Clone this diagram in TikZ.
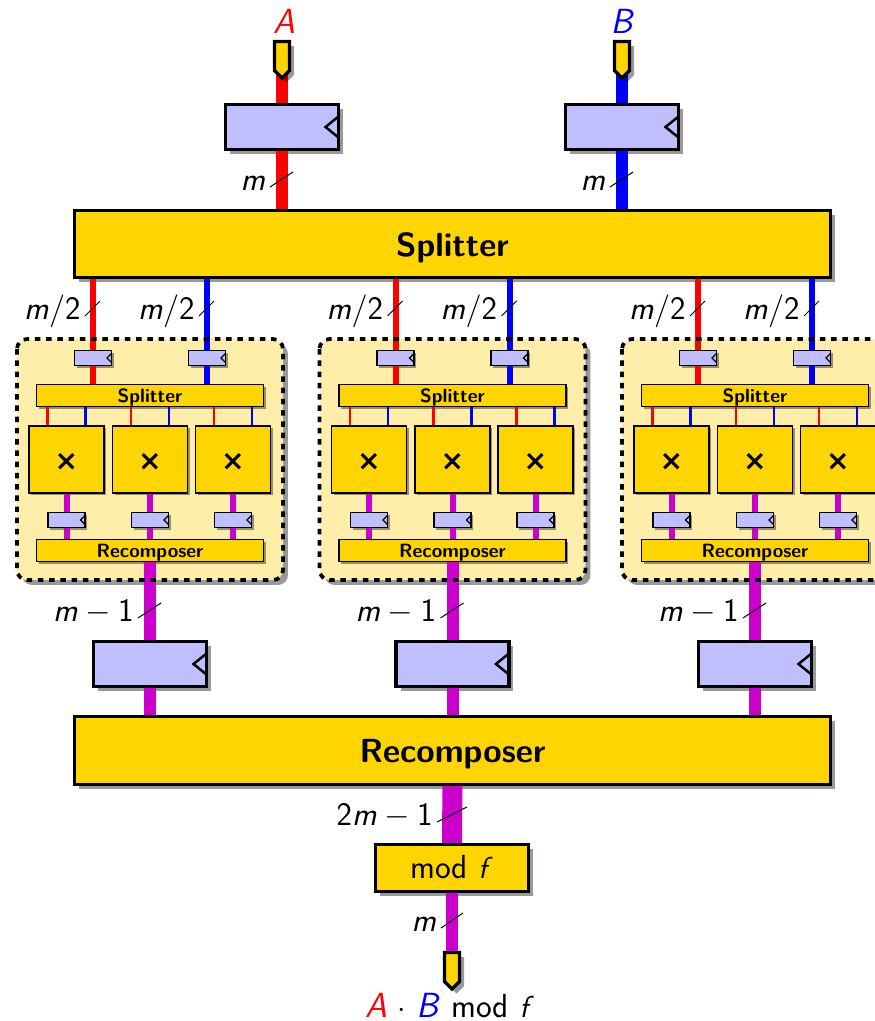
\documentclass[tikz,border=0pt]{standalone}
\usepackage[no-math]{fontspec}
\newfontfamily\timesglyph{DejaVu Sans}
\usetikzlibrary{shadows,shapes.symbols}
\DeclareMathAlphabet{\mathsfsl}{OT1}{cmss}{m}{sl}
\newcommand{\mv}[1]{\mathsfsl{#1}}
\definecolor{regblue}{HTML}{BFBFFF}
\definecolor{boxgold}{HTML}{FFD500}
\definecolor{groupfill}{HTML}{FFEEAA}
\definecolor{mulwire}{HTML}{CC00CC}
\tikzset{softshadow/.style = {drop shadow = {shadow xshift = #1, shadow yshift = -#1, fill = black, opacity = 0.4}}}
\tikzset{bigbox/.style = {draw = black, line width = 0.065cm, fill = boxgold, softshadow = 0.09cm, text height = 17.8pt, font = \sffamily\bfseries\fontsize{19}{23}\selectfont}}
\tikzset{smallbox/.style = {draw = black, line width = 0.024cm, fill = boxgold, softshadow = 0.045cm, inner sep = 0}}
\tikzset{smalltitle/.style = {smallbox, minimum width = 4.54cm, minimum height = 0.44cm, text height = 10.3pt, font = \sffamily\bfseries\fontsize{10.9}{13}\selectfont}}
\tikzset{bigreg/.style = {draw = black, line width = 0.065cm, fill = regblue, softshadow = 0.09cm, minimum width = 2.26cm, minimum height = 0.9cm,
  path picture = {\draw [line width = 0.05cm] ([yshift = 0.21cm] path picture bounding box.east) -- ([xshift = -0.26cm] path picture bounding box.east) -- ([yshift = -0.21cm] path picture bounding box.east);}}}
\tikzset{smallreg/.style = {draw = black, line width = 0.024cm, fill = regblue, softshadow = 0.045cm, minimum width = 0.74cm, minimum height = 0.3cm,
  path picture = {\draw [line width = 0.024cm] ([yshift = 0.09cm] path picture bounding box.east) -- ([xshift = -0.09cm] path picture bounding box.east) -- ([yshift = -0.09cm] path picture bounding box.east);}}}
\tikzset{pinbox/.style = {signal, signal to = south, draw = black, line width = 0.065cm, fill = boxgold, softshadow = 0.09cm, minimum width = 0.3cm, minimum height = 0.58cm, inner sep = 0}}
\tikzset{groupbox/.style = {fill = groupfill, softshadow = 0.1cm, rounded corners = 0.2cm, minimum width = 5.32cm, minimum height = 4.82cm, outer sep = 0}}
\tikzset{groupline/.style = {line width = 0.075cm, dash pattern = on 0.11cm off 0.115cm, rounded corners = 0.2cm}}
\tikzset{widewire/.style = {line width = 0.24cm, draw = #1}}
\tikzset{midwire/.style = {line width = 0.12cm, draw = #1}}
\tikzset{thinwire/.style = {line width = 0.05cm, draw = #1}}
\tikzset{plaintext/.style = {inner sep = 0, font = \sffamily\fontsize{19}{23}\selectfont}}
\tikzset{busname/.style = {plaintext, anchor = base east}}
\newcommand{\busmark}[6]{
  \coordinate (#1 s) at ({#2} , {#3});
  \coordinate (#1 e) at ({#4} , {#5});
  \draw [line width = 0.02cm] (#1 s) -- (#1 e);
  \node [busname] (#1 l) at ({#2 - 4} , {#3 + 3}) {\scalebox{1.08}{$ #6 $}};
}
\begin{document}
\begin{tikzpicture}[x = 0.02cm, y = -0.02cm]
  \useasboundingbox (0 , 0) rectangle (875 , 1021);

  % inputs and top level blocks
  \coordinate (pinAin) at (282 , 60);
  \coordinate (pinBin) at (622 , 60);
  \node [bigreg] (regA) at (282 , 127) {};
  \node [bigreg] (regB) at (622 , 127) {};
  \node [bigbox, minimum width = 15.12cm, minimum height = 1.34cm] (split) at (452.5 , 244) {Splitter};
  \node [bigbox, minimum width = 15.12cm, minimum height = 1.36cm] (recomp) at (452.5 , 750.5) {Recomposer};
  \node [bigbox, minimum width = 3.06cm, minimum height = 0.94cm, text height = 11.4pt, text depth = 0pt, font = \sffamily\fontsize{19}{23}\selectfont] (modf) at (452 , 868) {mod $ \mv{f} $};

  \draw [widewire = red] (pinAin) -- (regA);
  \draw [widewire = blue] (pinBin) -- (regB);
  \draw [widewire = red] (regA) -- (regA |- split.north);
  \draw [widewire = blue] (regB) -- (regB |- split.north);

  \node [pinbox] (pinA) at (282 , 56) {};
  \node [pinbox] (pinB) at (622 , 56) {};
  \node [plaintext, anchor = base] (nameA) at (284 , 33) {\scalebox{1.15}{\textcolor{red}{$ \mv{A} $}}};
  \node [plaintext, anchor = base] (nameB) at (623 , 33) {\scalebox{1.15}{\textcolor{blue}{$ \mv{B} $}}};

  \busmark{markA}{270}{187}{293}{172}{\mv{m}}
  \busmark{markB}{610}{187}{633}{172}{\mv{m}}

  % the three multiplier groups
  \foreach \grp/\off in {a/0,b/302.5,c/605} {
    \node [groupbox] (\grp box) at ({150 + \off} , 459.5) {};
    \node [smallreg] (\grp regA) at ({93 + \off} , 358) {};
    \node [smallreg] (\grp regB) at ({207 + \off} , 358) {};
    \node [smalltitle] (\grp split) at ({150 + \off} , 395.5) {Splitter};
    \node [smalltitle] (\grp recomp) at ({150 + \off} , 550.5) {Recomposer};
    \node [bigreg] (\grp out) at ({150 + \off} , 664) {};
    \draw [midwire = red] (\grp regA |- split.south) -- (\grp regA);
    \draw [midwire = blue] (\grp regB |- split.south) -- (\grp regB);
    \draw [midwire = red] (\grp regA) -- (\grp regA |- \grp split.north);
    \draw [midwire = blue] (\grp regB) -- (\grp regB |- \grp split.north);
    \foreach \idx/\cx in {1/66.5,2/150,3/233} {
      \node [smallbox, minimum width = 1.5cm, minimum height = 1.34cm, text height = 12.3pt, font = \timesglyph\bfseries\fontsize{16}{20}\selectfont] (\grp mul\idx) at ({\cx + \off} , 459.5) {×};
      \node [smallreg] (\grp reg\idx) at ({\cx + \off} , 520) {};
      \coordinate (\grp redtop\idx) at ({\cx + \off - 19} , 425);
      \coordinate (\grp bluetop\idx) at ({\cx + \off + 19} , 425);
      \draw [thinwire = red] (\grp redtop\idx) -- (\grp redtop\idx |- \grp split.south);
      \draw [thinwire = blue] (\grp bluetop\idx) -- (\grp bluetop\idx |- \grp split.south);
      \draw [midwire = mulwire] (\grp mul\idx) -- (\grp reg\idx);
      \draw [midwire = mulwire] (\grp reg\idx) -- (\grp reg\idx |- \grp recomp.north);
    }
    \draw [widewire = mulwire] (\grp recomp) -- (\grp out);
    \draw [widewire = mulwire] (\grp out) -- (\grp out |- recomp.north);
    \draw [groupline] (\grp box.north west) rectangle (\grp box.south east);
  }
  \foreach \grp/\off in {a/0,b/302.5,c/605} {
    \busmark{\grp markA}{85 + \off}{316}{100 + \off}{301}{\mv{m}/\mathsf{2}}
    \busmark{\grp markB}{199 + \off}{316}{214 + \off}{301}{\mv{m}/\mathsf{2}}
    \busmark{\grp markC}{138 + \off}{618}{161 + \off}{603}{\mv{m}-\mathsf{1}}
  }

  % output side
  \node [pinbox] (pinR) at (452 , 967) {};
  \draw [line width = 0.4cm, draw = mulwire] (recomp) -- (modf);
  \draw [widewire = mulwire] (modf) -- (pinR);
  \busmark{markD}{437}{822}{467}{807}{\mathsf{2}\mv{m}-\mathsf{1}}
  \busmark{markE}{441}{928}{463}{913}{\mv{m}}
  \node [plaintext, anchor = base] (nameR) at (450 , 1017) {\scalebox{1.15}{\textcolor{red}{$ \mv{A} $}} $ \cdot $ \scalebox{1.15}{\textcolor{blue}{$ \mv{B} $}} mod $ \mv{f} $};

\end{tikzpicture}
\end{document}
